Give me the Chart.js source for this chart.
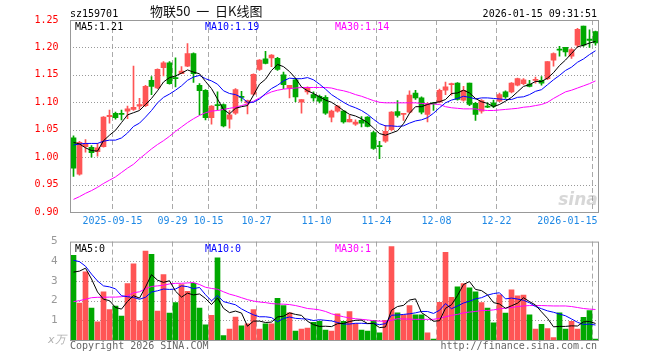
<!DOCTYPE html>
<html>
<head>
<meta charset="utf-8">
<script src="https://cdn.jsdelivr.net/npm/chart.js@4.4.1/dist/chart.umd.min.js"></script>
<style>
  body { margin: 0; background: #fff; }
  #wrap { position: relative; width: 660px; height: 360px; }
  #kline { position: absolute; left: 0; top: 0; }
  #vol { position: absolute; left: 0; top: 230px; }
</style>
</head>
<body>
<div id="wrap">
  <canvas id="kline" width="660" height="230"></canvas>
  <canvas id="vol" width="660" height="130"></canvas>
</div>
<script>
// trading days
const dates = [
  '2025-09-04','2025-09-05','2025-09-08','2025-09-09','2025-09-10','2025-09-11','2025-09-12',
  '2025-09-15','2025-09-16','2025-09-17','2025-09-18','2025-09-19',
  '2025-09-22','2025-09-23','2025-09-24','2025-09-25','2025-09-26','2025-09-29','2025-09-30',
  '2025-10-09','2025-10-10','2025-10-13','2025-10-14','2025-10-15','2025-10-16','2025-10-17',
  '2025-10-20','2025-10-21','2025-10-22','2025-10-23','2025-10-24',
  '2025-10-27','2025-10-28','2025-10-29','2025-10-30','2025-10-31',
  '2025-11-03','2025-11-04','2025-11-05','2025-11-06','2025-11-07',
  '2025-11-10','2025-11-11','2025-11-12','2025-11-13','2025-11-14',
  '2025-11-17','2025-11-18','2025-11-19','2025-11-20','2025-11-21',
  '2025-11-24','2025-11-25','2025-11-26','2025-11-27','2025-11-28',
  '2025-12-01','2025-12-02','2025-12-03','2025-12-04','2025-12-05',
  '2025-12-08','2025-12-09','2025-12-10','2025-12-11','2025-12-12',
  '2025-12-15','2025-12-16','2025-12-17','2025-12-18','2025-12-19',
  '2025-12-22','2025-12-23','2025-12-24','2025-12-25','2025-12-26',
  '2025-12-29','2025-12-30','2025-12-31',
  '2026-01-05','2026-01-06','2026-01-07','2026-01-08','2026-01-09',
  '2026-01-12','2026-01-13','2026-01-14','2026-01-15'
]
const tickDates = ['2025-09-15','2025-09-29','2025-10-15','2025-10-27','2025-11-10',
  '2025-11-24','2025-12-08','2025-12-22','2026-01-15']

const opens = [
  1.035,0.969,1.019,1.018,1.010,1.019,1.074,1.080,1.080,1.084,
  1.087,1.093,1.094,1.140,1.126,1.163,1.172,1.145,1.152,1.166,
  1.189,1.131,1.122,1.072,1.096,1.096,1.069,1.080,1.111,1.099,
  1.115,1.160,1.179,1.181,1.180,1.150,1.126,1.141,1.100,1.119,
  1.114,1.111,1.109,1.073,1.084,1.084,1.064,1.060,1.067,1.073,
  1.045,1.021,1.029,1.050,1.083,1.078,1.082,1.117,1.108,1.078,
  1.098,1.100,1.122,1.132,1.135,1.104,1.135,1.098,1.084,1.093,
  1.099,1.102,1.119,1.119,1.131,1.134,1.133,1.140,1.140,1.143,
  1.177,1.197,1.200,1.184,1.204,1.239,1.215,1.229]
const highs = [
  1.039,1.029,1.032,1.021,1.025,1.074,1.086,1.082,1.086,1.093,
  1.166,1.107,1.131,1.147,1.161,1.174,1.174,1.181,1.165,1.207,
  1.190,1.134,1.123,1.094,1.119,1.097,1.085,1.125,1.120,1.104,
  1.152,1.178,1.193,1.187,1.182,1.155,1.131,1.143,1.105,1.128,
  1.119,1.113,1.112,1.086,1.094,1.085,1.076,1.068,1.074,1.074,
  1.047,1.029,1.058,1.083,1.103,1.080,1.121,1.122,1.110,1.099,
  1.100,1.124,1.137,1.135,1.136,1.129,1.135,1.100,1.105,1.099,
  1.104,1.117,1.121,1.136,1.144,1.143,1.140,1.146,1.147,1.174,
  1.190,1.202,1.200,1.198,1.235,1.239,1.232,1.230]
const lows = [
  0.965,0.967,1.009,1.000,1.002,1.018,1.062,1.069,1.068,1.070,
  1.085,1.087,1.092,1.114,1.125,1.148,1.133,1.128,1.152,1.165,
  1.136,1.077,1.068,1.060,1.086,1.055,1.053,1.078,1.102,1.079,
  1.113,1.158,1.170,1.165,1.158,1.125,1.108,1.101,1.080,1.115,
  1.102,1.099,1.078,1.064,1.082,1.062,1.064,1.058,1.055,1.055,
  1.014,0.997,1.027,1.048,1.073,1.067,1.080,1.105,1.079,1.064,
  1.085,1.099,1.114,1.113,1.104,1.102,1.094,1.067,1.080,1.090,
  1.090,1.101,1.107,1.117,1.130,1.132,1.128,1.135,1.131,1.141,
  1.166,1.184,1.184,1.180,1.201,1.202,1.200,1.204]
const closes = [
  0.980,1.027,1.025,1.008,1.017,1.073,1.076,1.072,1.078,1.088,
  1.091,1.096,1.129,1.129,1.160,1.172,1.134,1.143,1.157,1.189,
  1.152,1.121,1.072,1.093,1.094,1.057,1.077,1.123,1.109,1.103,
  1.151,1.177,1.171,1.186,1.160,1.132,1.131,1.110,1.105,1.127,
  1.108,1.102,1.080,1.084,1.093,1.064,1.069,1.064,1.062,1.056,
  1.016,1.019,1.047,1.082,1.076,1.080,1.113,1.108,1.082,1.097,
  1.097,1.122,1.128,1.134,1.105,1.122,1.096,1.078,1.103,1.091,
  1.093,1.114,1.110,1.135,1.143,1.141,1.129,1.142,1.135,1.174,
  1.189,1.195,1.192,1.196,1.233,1.204,1.213,1.208]

// moving averages as shown on the chart
const ma5 = [
  1.027,1.024,1.017,1.012,1.011,1.030,1.040,1.049,1.063,1.077,
  1.081,1.085,1.096,1.107,1.121,1.137,1.145,1.148,1.153,1.159,
  1.155,1.152,1.138,1.125,1.106,1.087,1.079,1.089,1.092,1.094,
  1.113,1.133,1.142,1.158,1.169,1.165,1.156,1.144,1.128,1.121,
  1.116,1.110,1.104,1.100,1.093,1.085,1.078,1.075,1.070,1.063,
  1.053,1.043,1.040,1.044,1.048,1.061,1.080,1.092,1.092,1.096,
  1.099,1.101,1.105,1.116,1.117,1.122,1.117,1.107,1.101,1.098,
  1.092,1.096,1.102,1.109,1.119,1.129,1.132,1.138,1.138,1.144,
  1.154,1.167,1.177,1.189,1.201,1.204,1.208,1.211]
const ma10 = [
  1.022,1.024,1.025,1.025,1.025,1.029,1.031,1.031,1.035,1.044,
  1.056,1.062,1.073,1.085,1.099,1.109,1.115,1.122,1.130,1.140,
  1.146,1.149,1.143,1.139,1.133,1.121,1.116,1.114,1.109,1.100,
  1.100,1.106,1.116,1.125,1.131,1.139,1.144,1.143,1.143,1.145,
  1.141,1.133,1.124,1.114,1.107,1.100,1.094,1.090,1.085,1.078,
  1.069,1.061,1.057,1.057,1.056,1.057,1.062,1.066,1.068,1.072,
  1.080,1.090,1.099,1.104,1.107,1.111,1.109,1.106,1.108,1.108,
  1.107,1.106,1.105,1.105,1.109,1.110,1.114,1.120,1.123,1.132,
  1.141,1.149,1.158,1.164,1.173,1.179,1.187,1.194]
const ma30 = [
  0.923,0.928,0.934,0.939,0.945,0.952,0.958,0.964,0.972,0.980,
  0.987,0.997,1.006,1.015,1.023,1.030,1.038,1.047,1.055,1.063,
  1.070,1.076,1.081,1.084,1.085,1.087,1.089,1.091,1.094,1.097,
  1.102,1.108,1.114,1.119,1.122,1.124,1.125,1.126,1.127,1.127,
  1.127,1.127,1.127,1.126,1.123,1.121,1.118,1.114,1.111,1.107,
  1.103,1.100,1.099,1.099,1.099,1.099,1.099,1.099,1.098,1.097,
  1.097,1.096,1.092,1.090,1.089,1.088,1.088,1.088,1.086,1.085,
  1.085,1.086,1.087,1.088,1.089,1.091,1.092,1.094,1.096,1.100,
  1.107,1.113,1.119,1.122,1.126,1.130,1.134,1.139]

// volume, in 万
const vols = [
  4.30,1.87,3.47,1.62,0.92,2.45,1.55,1.72,1.22,2.87,
  3.87,0.97,4.52,4.35,1.47,3.32,1.37,1.90,2.82,2.47,
  2.88,1.62,0.77,1.25,4.17,0.22,0.55,1.17,0.72,0.82,
  1.55,0.55,0.82,0.82,2.12,1.75,1.38,0.45,0.55,0.60,
  0.90,0.95,0.50,0.45,1.33,0.95,1.45,0.83,0.50,0.45,
  1.00,0.37,1.00,4.75,1.38,1.28,1.75,1.28,1.28,0.37,
  0.05,1.92,4.45,2.17,2.70,2.87,2.65,2.45,1.90,1.62,
  0.87,2.30,1.37,2.55,2.25,2.28,1.28,0.55,0.80,0.58,
  0.12,1.38,0.55,0.95,0.55,1.15,1.50,0.05]
const vma5 = [
  3.45,3.50,3.65,3.10,2.44,2.07,2.00,1.65,1.57,1.96,
  2.25,2.13,2.69,3.32,3.04,2.93,3.01,2.48,2.18,2.38,
  2.29,2.34,2.11,1.80,2.14,1.61,1.39,1.47,1.37,0.70,
  0.96,0.96,0.89,0.91,1.17,1.21,1.38,1.30,1.25,0.95,
  0.78,0.69,0.70,0.68,0.83,0.84,0.94,1.00,1.01,0.84,
  0.85,0.63,0.66,1.51,1.70,1.76,2.03,2.09,1.39,1.19,
  0.95,0.98,1.61,1.79,2.26,2.82,2.97,2.57,2.51,2.30,
  1.90,1.83,1.61,1.74,1.87,2.15,1.95,1.78,1.43,1.10,
  0.67,0.69,0.69,0.72,0.71,0.92,0.94,0.84]
const vma10 = [
  4.05,3.98,3.75,3.35,3.00,2.75,2.70,2.60,2.25,2.20,
  2.16,2.07,2.17,2.44,2.50,2.59,2.57,2.59,2.75,2.71,
  2.61,2.67,2.30,1.99,2.26,1.95,1.87,1.79,1.58,1.42,
  1.28,1.18,1.18,1.14,0.93,1.09,1.17,1.10,1.08,1.06,
  0.99,1.03,1.00,0.97,0.89,0.81,0.81,0.85,0.85,0.83,
  0.84,0.78,0.83,1.26,1.27,1.30,1.33,1.38,1.45,1.45,
  1.35,1.51,1.85,1.59,1.73,1.88,1.97,2.09,2.15,2.28,
  2.36,2.40,2.09,2.13,2.08,2.02,1.89,1.70,1.59,1.48,
  1.41,1.32,1.23,1.07,0.90,0.79,0.81,0.76]
const vma30 = [
  1.95,2.00,2.07,2.15,2.17,2.17,2.18,2.18,2.20,2.25,
  2.40,2.45,2.60,2.72,2.75,2.78,2.85,2.88,2.88,2.90,
  2.92,2.82,2.68,2.62,2.58,2.45,2.33,2.25,2.15,2.05,
  1.98,1.93,1.90,1.85,1.83,1.82,1.80,1.75,1.68,1.60,
  1.57,1.53,1.45,1.33,1.25,1.18,1.12,1.08,1.05,1.02,
  0.98,0.96,0.95,1.00,1.08,1.07,1.06,1.05,1.05,1.05,
  1.05,1.10,1.18,1.25,1.30,1.38,1.42,1.45,1.50,1.50,
  1.53,1.58,1.62,1.65,1.70,1.73,1.75,1.75,1.75,1.74,
  1.73,1.73,1.73,1.70,1.65,1.60,1.57,1.55]

const code = 'sz159701'
const title = '物联50  一  日K线图'
const stamp = '2026-01-15 09:31:51'

const RED = '#ff5555'
const GREEN = '#00a800'
const MONO = '"DejaVu Sans Mono", "Liberation Mono", monospace'
const GRID = '#999999'

const last = closes.length - 1
const colors = closes.map((c, i) => c >= opens[i] ? RED : GREEN)
const tickIdx = tickDates.map(d => dates.indexOf(d))

function vGrid(c) {
  return tickIdx.includes(c.index) ? '#aaaaaa' : 'transparent'
}

function lineSet(data, color) {
  return { type: 'line', data: data, borderColor: color, borderWidth: 1,
    pointRadius: 0, tension: 0, order: 0 }
}

function xScale(h) {
  return {
    offset: true,
    grid: { offset: true, color: vGrid, drawTicks: false },
    border: { display: false, dash: [5, 3] },
    ticks: { display: false, autoSkip: false },
    afterFit: s => { s.height = h }
  }
}

// dotted horizontal lines at the y scale ticks
function hGrid(chart, values) {
  const { ctx, chartArea: a } = chart
  const y = chart.scales.y
  ctx.save()
  ctx.fillStyle = GRID
  values.forEach(v => {
    const py = Math.round(y.getPixelForValue(v))
    for (let px = Math.ceil(a.left) + 2; px < a.right - 1; px += 3) {
      ctx.fillRect(px, py, 1, 1)
    }
  })
  ctx.restore()
}

function frame(chart) {
  const { ctx, chartArea: a } = chart
  ctx.save()
  ctx.strokeStyle = '#999'
  ctx.lineWidth = 1
  ctx.strokeRect(a.left, a.top + 0.5, a.right - a.left, a.bottom - a.top)
  ctx.restore()
}

function text(ctx, s, x, y, color, align, font) {
  ctx.fillStyle = color
  ctx.textAlign = align || 'left'
  ctx.textBaseline = 'alphabetic'
  ctx.font = font || ('10px ' + MONO)
  ctx.fillText(s, x, y)
}

const priceLines = [0.95, 1.00, 1.05, 1.10, 1.15, 1.20]
const volLines = [1, 2, 3, 4]

const klineDeco = {
  id: 'klineDeco',
  beforeDatasetsDraw(chart) {
    hGrid(chart, priceLines)
  },
  afterDraw(chart) {
    const { ctx, chartArea: a } = chart
    const x = chart.scales.x
    frame(chart)
    ctx.save()
    // header
    text(ctx, code, 70, 17, '#000')
    text(ctx, title, 150, 16, '#111', 'left', '13px "Noto Sans CJK SC", sans-serif')
    text(ctx, stamp, 597, 17, '#000', 'right')
    // ma legend
    text(ctx, 'MA5:' + ma5[last].toFixed(2), 75, 30, '#000')
    text(ctx, 'MA10:' + ma10[last].toFixed(2), 205, 30, '#0000ff')
    text(ctx, 'MA30:' + ma30[last].toFixed(2), 335, 30, '#ff00ff')
    // date labels under the grid lines
    tickIdx.forEach((idx, k) => {
      const d = tickDates[k]
      const s = (k === 0 || k === tickDates.length - 1) ? d : d.slice(5)
      const px = x.getPixelForValue(idx) - 3
      if (k === tickDates.length - 1) {
        text(ctx, s, a.right - 1, a.bottom + 12, '#1e88e5', 'right')
      } else {
        text(ctx, s, px, a.bottom + 12, '#1e88e5', 'center')
      }
    })
    // watermark
    text(ctx, 'sina', 578, 205, 'rgba(140,140,140,0.35)', 'center', 'italic bold 17px "DejaVu Sans", sans-serif')
    ctx.restore()
  }
}

const volDeco = {
  id: 'volDeco',
  beforeDatasetsDraw(chart) {
    hGrid(chart, volLines)
  },
  afterDraw(chart) {
    const { ctx, chartArea: a } = chart
    frame(chart)
    ctx.save()
    text(ctx, 'MA5:' + Math.floor(vma5[last]), 75, a.top + 10, '#000')
    text(ctx, 'MA10:' + Math.floor(vma10[last]), 205, a.top + 10, '#0000ff')
    text(ctx, 'MA30:' + Math.floor(vma30[last]), 335, a.top + 10, '#ff00ff')
    text(ctx, 'x万', 48, a.bottom + 3, '#b0b0b0', 'left', 'italic 11px "DejaVu Sans", sans-serif')
    text(ctx, 'Copyright 2026 SINA.COM', 70, a.bottom + 9, '#666')
    text(ctx, 'http://finance.sina.com.cn', 597, a.bottom + 9, '#666', 'right')
    ctx.restore()
  }
}

new Chart(document.getElementById('kline'), {
  type: 'bar',
  data: {
    labels: dates,
    datasets: [
      lineSet(ma5, '#000000'),
      lineSet(ma10, '#0000ff'),
      lineSet(ma30, '#ff00ff'),
      { data: opens.map((o, i) => [o, closes[i]]), backgroundColor: colors,
        barThickness: 5, minBarLength: 1, grouped: false, order: 1 },
      { data: lows.map((l, i) => [l, highs[i]]), backgroundColor: colors,
        barThickness: 1, grouped: false, order: 2 }
    ]
  },
  options: {
    responsive: false,
    animation: false,
    layout: { padding: { top: 20, right: 61.5, left: 0, bottom: 0 } },
    plugins: { legend: { display: false }, tooltip: { enabled: false } },
    scales: {
      x: xScale(18),
      y: {
        min: 0.9, max: 1.25,
        ticks: { stepSize: 0.05, color: '#ff0000', padding: 4,
          font: { family: MONO, size: 10 }, callback: v => v.toFixed(2) },
        grid: { display: false },
        border: { display: false },
        afterFit: s => { s.width = 70.5 }
      }
    }
  },
  plugins: [klineDeco]
})

new Chart(document.getElementById('vol'), {
  type: 'bar',
  data: {
    labels: dates,
    datasets: [
      lineSet(vma5, '#000000'),
      lineSet(vma10, '#0000ff'),
      lineSet(vma30, '#ff00ff'),
      { data: vols, backgroundColor: colors, barThickness: 5, grouped: false, order: 1 }
    ]
  },
  options: {
    responsive: false,
    animation: false,
    layout: { padding: { top: 10, right: 61.5, left: 0, bottom: 0 } },
    plugins: { legend: { display: false }, tooltip: { enabled: false } },
    scales: {
      x: xScale(20),
      y: {
        min: 0, max: 5,
        ticks: { stepSize: 1, color: '#999', padding: 5,
          font: { family: MONO, size: 11 }, callback: v => v === 0 ? '' : v },
        grid: { display: false },
        border: { display: false },
        afterFit: s => { s.width = 70.5 }
      }
    }
  },
  plugins: [volDeco]
})
</script>
</body>
</html>
